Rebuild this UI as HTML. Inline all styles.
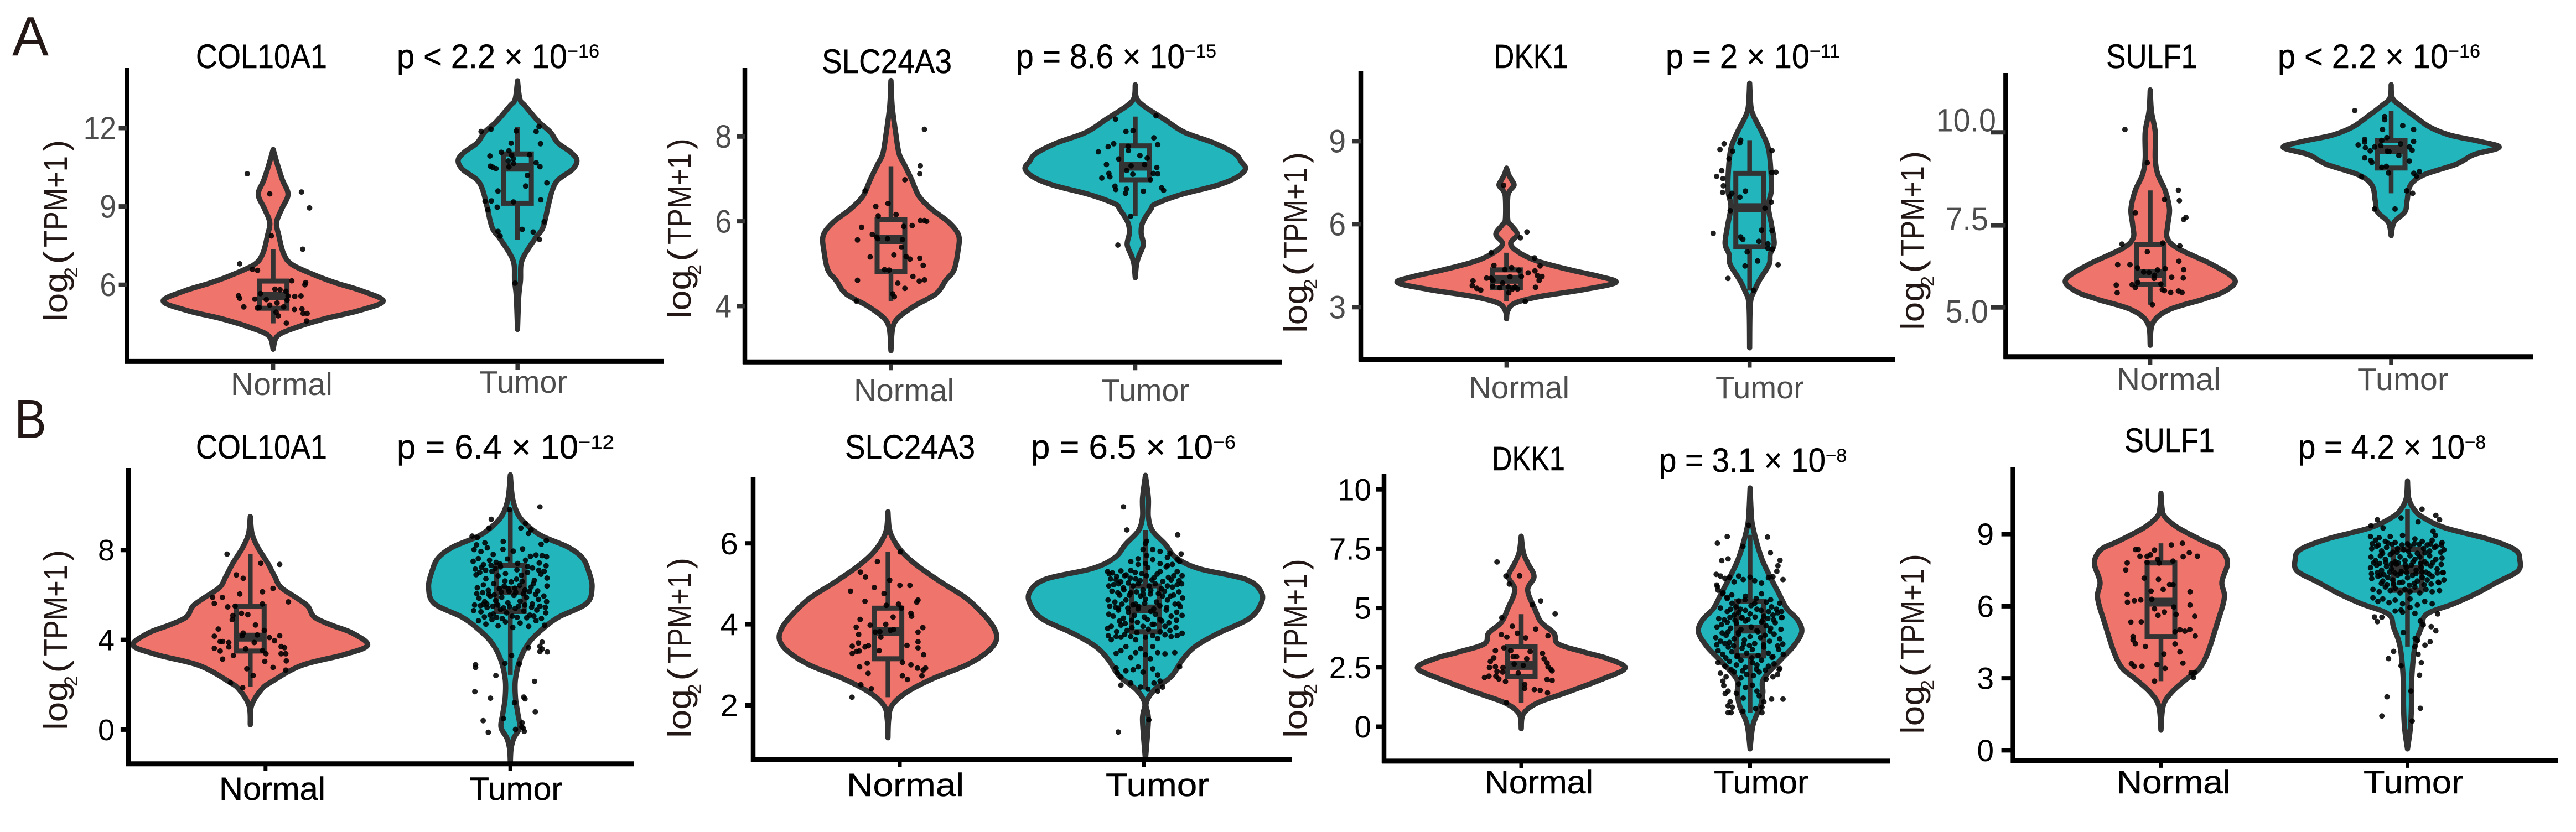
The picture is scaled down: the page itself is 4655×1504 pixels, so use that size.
<!DOCTYPE html>
<html lang="en"><head><meta charset="utf-8"><title>Violin plots of COL10A1, SLC24A3, DKK1, SULF1</title>
<style>
html,body{margin:0;padding:0;background:#fff}
svg{display:block}
text{font-family:"Liberation Sans",Arial,sans-serif;fill:#000}
.gene,.pv{font-size:61px;stroke:#000;stroke-width:.5px}
.sup{font-size:34px;stroke:#000;stroke-width:.3px}
.yt{font-size:59px;fill:#231815}
.xa{font-size:57px;fill:#4d4d4d}
.xb{font-size:58px;fill:#000;stroke:#000;stroke-width:.5px}
.letter{font-size:100px;fill:#231815}
</style></head>
<body>
<svg id="fig" width="4655" height="1504" viewBox="0 0 4655 1504" xmlns="http://www.w3.org/2000/svg">
<text class="letter" x="22" y="100" textLength="66" lengthAdjust="spacingAndGlyphs">A</text>
<text class="letter" x="26" y="792" textLength="58" lengthAdjust="spacingAndGlyphs">B</text>

<g id="a1">
<text class="gene" x="354" y="123" textLength="237" lengthAdjust="spacingAndGlyphs">COL10A1</text>
<text class="pv" x="717" y="123" textLength="308" lengthAdjust="spacingAndGlyphs">p &lt; 2.2 × 10</text>
<text class="sup" x="1025" y="104" textLength="58" lengthAdjust="spacingAndGlyphs">−16</text>
<text class="yt" transform="translate(121,581) rotate(-90)"><tspan x="0" textLength="88" lengthAdjust="spacingAndGlyphs">log</tspan><tspan x="79" dy="19" font-size="34">2</tspan><tspan x="103" dy="-19" textLength="24" lengthAdjust="spacingAndGlyphs">(</tspan><tspan x="134" textLength="165" lengthAdjust="spacingAndGlyphs">TPM+1</tspan><tspan x="308" textLength="20" lengthAdjust="spacingAndGlyphs">)</tspan></text>
<text class="xa" x="417" y="714" textLength="184" lengthAdjust="spacingAndGlyphs">Normal</text>
<text class="xa" x="866" y="710" textLength="159" lengthAdjust="spacingAndGlyphs">Tumor</text>
</g>
<g id="a2">
<text class="gene" x="1485" y="132" textLength="235" lengthAdjust="spacingAndGlyphs">SLC24A3</text>
<text class="pv" x="1836" y="123" textLength="305" lengthAdjust="spacingAndGlyphs">p = 8.6 × 10</text>
<text class="sup" x="2141" y="104" textLength="57" lengthAdjust="spacingAndGlyphs">−15</text>
<text class="yt" transform="translate(1248,576) rotate(-90)"><tspan x="0" textLength="88" lengthAdjust="spacingAndGlyphs">log</tspan><tspan x="79" dy="19" font-size="34">2</tspan><tspan x="103" dy="-19" textLength="24" lengthAdjust="spacingAndGlyphs">(</tspan><tspan x="134" textLength="165" lengthAdjust="spacingAndGlyphs">TPM+1</tspan><tspan x="306" textLength="20" lengthAdjust="spacingAndGlyphs">)</tspan></text>
<text class="xa" x="1543" y="725" textLength="181" lengthAdjust="spacingAndGlyphs">Normal</text>
<text class="xa" x="1990" y="725" textLength="159" lengthAdjust="spacingAndGlyphs">Tumor</text>
</g>
<g id="a3">
<text class="gene" x="2699" y="123" textLength="135" lengthAdjust="spacingAndGlyphs">DKK1</text>
<text class="pv" x="3010" y="123" textLength="260" lengthAdjust="spacingAndGlyphs">p = 2 × 10</text>
<text class="sup" x="3270" y="104" textLength="55" lengthAdjust="spacingAndGlyphs">−11</text>
<text class="yt" transform="translate(2361,602) rotate(-90)"><tspan x="0" textLength="88" lengthAdjust="spacingAndGlyphs">log</tspan><tspan x="79" dy="19" font-size="34">2</tspan><tspan x="103" dy="-19" textLength="24" lengthAdjust="spacingAndGlyphs">(</tspan><tspan x="134" textLength="165" lengthAdjust="spacingAndGlyphs">TPM+1</tspan><tspan x="307" textLength="20" lengthAdjust="spacingAndGlyphs">)</tspan></text>
<text class="xa" x="2654" y="720" textLength="182" lengthAdjust="spacingAndGlyphs">Normal</text>
<text class="xa" x="3100" y="720" textLength="160" lengthAdjust="spacingAndGlyphs">Tumor</text>
</g>
<g id="a4">
<text class="gene" x="3806" y="123" textLength="165" lengthAdjust="spacingAndGlyphs">SULF1</text>
<text class="pv" x="4116" y="123" textLength="308" lengthAdjust="spacingAndGlyphs">p &lt; 2.2 × 10</text>
<text class="sup" x="4424" y="104" textLength="58" lengthAdjust="spacingAndGlyphs">−16</text>
<text class="yt" transform="translate(3476,597) rotate(-90)"><tspan x="0" textLength="88" lengthAdjust="spacingAndGlyphs">log</tspan><tspan x="79" dy="19" font-size="34">2</tspan><tspan x="103" dy="-19" textLength="24" lengthAdjust="spacingAndGlyphs">(</tspan><tspan x="134" textLength="163" lengthAdjust="spacingAndGlyphs">TPM+1</tspan><tspan x="304" textLength="20" lengthAdjust="spacingAndGlyphs">)</tspan></text>
<text class="xa" x="3825" y="705" textLength="188" lengthAdjust="spacingAndGlyphs">Normal</text>
<text class="xa" x="4260" y="705" textLength="164" lengthAdjust="spacingAndGlyphs">Tumor</text>
</g>
<g id="b1">
<text class="gene" x="354" y="829" textLength="237" lengthAdjust="spacingAndGlyphs">COL10A1</text>
<text class="pv" x="717" y="829" textLength="328" lengthAdjust="spacingAndGlyphs">p = 6.4 × 10</text>
<text class="sup" x="1045" y="811" textLength="65" lengthAdjust="spacingAndGlyphs">−12</text>
<text class="yt" transform="translate(121,1320) rotate(-90)"><tspan x="0" textLength="88" lengthAdjust="spacingAndGlyphs">log</tspan><tspan x="79" dy="19" font-size="34">2</tspan><tspan x="103" dy="-19" textLength="24" lengthAdjust="spacingAndGlyphs">(</tspan><tspan x="134" textLength="165" lengthAdjust="spacingAndGlyphs">TPM+1</tspan><tspan x="306" textLength="20" lengthAdjust="spacingAndGlyphs">)</tspan></text>
<text class="xb" x="396" y="1446" textLength="192" lengthAdjust="spacingAndGlyphs">Normal</text>
<text class="xb" x="848" y="1446" textLength="168" lengthAdjust="spacingAndGlyphs">Tumor</text>
</g>
<g id="b2">
<text class="gene" x="1527" y="829" textLength="235" lengthAdjust="spacingAndGlyphs">SLC24A3</text>
<text class="pv" x="1863" y="829" textLength="329" lengthAdjust="spacingAndGlyphs">p = 6.5 × 10</text>
<text class="sup" x="2192" y="811" textLength="41" lengthAdjust="spacingAndGlyphs">−6</text>
<text class="yt" transform="translate(1248,1334) rotate(-90)"><tspan x="0" textLength="88" lengthAdjust="spacingAndGlyphs">log</tspan><tspan x="79" dy="19" font-size="34">2</tspan><tspan x="103" dy="-19" textLength="24" lengthAdjust="spacingAndGlyphs">(</tspan><tspan x="134" textLength="165" lengthAdjust="spacingAndGlyphs">TPM+1</tspan><tspan x="306" textLength="20" lengthAdjust="spacingAndGlyphs">)</tspan></text>
<text class="xb" x="1530" y="1439" textLength="212" lengthAdjust="spacingAndGlyphs">Normal</text>
<text class="xb" x="1998" y="1439" textLength="187" lengthAdjust="spacingAndGlyphs">Tumor</text>
</g>
<g id="b3">
<text class="gene" x="2696" y="850" textLength="132" lengthAdjust="spacingAndGlyphs">DKK1</text>
<text class="pv" x="2998" y="853" textLength="301" lengthAdjust="spacingAndGlyphs">p = 3.1 × 10</text>
<text class="sup" x="3299" y="835" textLength="38" lengthAdjust="spacingAndGlyphs">−8</text>
<text class="yt" transform="translate(2361,1334) rotate(-90)"><tspan x="0" textLength="88" lengthAdjust="spacingAndGlyphs">log</tspan><tspan x="79" dy="19" font-size="34">2</tspan><tspan x="103" dy="-19" textLength="24" lengthAdjust="spacingAndGlyphs">(</tspan><tspan x="134" textLength="163" lengthAdjust="spacingAndGlyphs">TPM+1</tspan><tspan x="304" textLength="20" lengthAdjust="spacingAndGlyphs">)</tspan></text>
<text class="xb" x="2683" y="1434" textLength="196" lengthAdjust="spacingAndGlyphs">Normal</text>
<text class="xb" x="3097" y="1434" textLength="171" lengthAdjust="spacingAndGlyphs">Tumor</text>
</g>
<g id="b4">
<text class="gene" x="3839" y="817" textLength="163" lengthAdjust="spacingAndGlyphs">SULF1</text>
<text class="pv" x="4153" y="829" textLength="301" lengthAdjust="spacingAndGlyphs">p = 4.2 × 10</text>
<text class="sup" x="4454" y="811" textLength="38" lengthAdjust="spacingAndGlyphs">−8</text>
<text class="yt" transform="translate(3476,1327) rotate(-90)"><tspan x="0" textLength="88" lengthAdjust="spacingAndGlyphs">log</tspan><tspan x="79" dy="19" font-size="34">2</tspan><tspan x="103" dy="-19" textLength="24" lengthAdjust="spacingAndGlyphs">(</tspan><tspan x="134" textLength="165" lengthAdjust="spacingAndGlyphs">TPM+1</tspan><tspan x="306" textLength="20" lengthAdjust="spacingAndGlyphs">)</tspan></text>
<text class="xb" x="3825" y="1434" textLength="206" lengthAdjust="spacingAndGlyphs">Normal</text>
<text class="xb" x="4271" y="1434" textLength="180" lengthAdjust="spacingAndGlyphs">Tumor</text>
</g>
</svg>
<script>
// ---- Tick values and labels ----
const a1Ticks=[6,9,12]; const a1TickLabels=['6','9','12'];
const a2Ticks=[4,6,8]; const a2TickLabels=['4','6','8'];
const a3Ticks=[3,6,9]; const a3TickLabels=['3','6','9'];
const a4Ticks=[5,7.34,10]; const a4TickLabels=['5.0','7.5','10.0'];
const b1Ticks=[0,4,8]; const b1TickLabels=['0','4','8'];
const b2Ticks=[2,4,6]; const b2TickLabels=['2','4','6'];
const b3Ticks=[0,2.5,5,7.5,10]; const b3TickLabels=['0','2.5','5','7.5','10'];
const b4Ticks=[0,3,6,9]; const b4TickLabels=['0','3','6','9'];

// ---- Violin profiles: levels (log2 TPM) and half-widths (category units) ----
// ---- Box stats: [low whisker, Q1, median, Q3, high whisker] ----
// ---- Points: jitter (category units) and value ----

// A / COL10A1
const a1NormalLevels=[11.18,10.62,10.01,9.46,8.9,8.39,7.89,7.18,6.77,6.36,6.06,5.76,5.37,5,4.69,4.34,4.03,3.53];
const a1NormalWidths=[0,.017,.038,.061,.035,.014,.023,.043,.078,.173,.26,.364,.45,.347,.208,.087,.017,0];
const a1NormalBox=[4.52,5.1,5.57,6.14,7.36];
const a1NormalJitter=[-.106,-.014,.116,.149,-.007,.121,-.137,-.085,-.064,.133,.076,.13,.007,.028,.052,-.142,-.137,-.075,-.052,-.028,.061,.088,.114,.057,.016,-.014,-.12,-.064,-.057,.043,.087,.118,.012,.021,.123,.139,.137,.054];
const a1NormalValues=[10.25,9.48,9.55,8.94,7.87,7.36,6.8,6.59,6.55,6.08,6.15,6,5.83,5.81,5.75,5.58,5.48,5.45,5.66,5.43,5.57,5.55,5.57,5.41,5.3,5.22,5.15,5.11,5.12,5.15,5.05,5.07,4.95,4.81,4.9,4.9,4.61,4.53];
const a1TumorLevels=[13.81,13.1,12.85,12.24,11.84,11.43,11.08,10.77,10.42,10.01,9.61,9,8.19,7.78,7.18,6.77,6.16,5.55,4.29];
const a1TumorWidths=[0,.01,.031,.087,.135,.165,.217,.243,.225,.165,.142,.125,.104,.073,.031,.014,.012,.005,0];
const a1TumorBox=[7.73,9.12,10.5,11.01,12.04];
const a1TumorJitter=[-.149,-.109,-.005,.088,.076,-.026,.094,-.066,-.035,-.113,-.024,.049,-.038,-.017,.076,-.111,-.102,-.088,-.035,-.016,.092,.04,.12,.033,-.08,-.133,-.107,-.017,.095,-.083,-.121,.109,.019,-.08,.064,-.071,.09,-.01];
const a1TumorValues=[11.87,11.96,11.89,12.06,11.87,11.42,11.4,11.07,11.13,10.93,10.96,10.98,10.74,10.82,10.67,10.54,10.5,10.45,10.51,10.65,10.52,10.19,9.9,9.78,9.59,9.2,9.21,9.17,9.25,8.97,8.87,8.41,8.12,8.04,8.02,7.86,7.73,6.06];

// A / SLC24A3
const a2NormalLevels=[9.32,8.72,8.1,7.6,7.35,6.98,6.6,6.29,5.98,5.67,5.29,4.85,4.61,4.29,4,3.73,3.48,2.95];
const a2NormalWidths=[0,.005,.019,.033,.054,.085,.114,.166,.236,.277,.274,.258,.225,.184,.095,.031,.007,0];
const a2NormalBox=[4.12,4.82,5.57,6.04,7.3];
const a2NormalJitter=[.137,.12,.118,.057,-.106,-.012,-.062,-.052,.021,.12,.137,.146,.087,.052,-.12,-.076,-.059,-.054,-.014,-.137,.047,.043,.012,-.085,.062,.078,.118,.132,-.026,-.007,.09,-.137,.116,.137,.028,.057,.007,.014,-.142];
const a2NormalValues=[8.17,7.31,7.12,6.98,6.72,6.42,6.35,6.13,6.16,6.02,6.02,6,5.9,5.88,5.86,5.69,5.63,5.59,5.59,5.56,5.57,5.39,5.21,5.16,5.17,5.11,5.13,4.96,4.86,4.85,4.7,4.61,4.59,4.62,4.54,4.42,4.29,4.22,4.12];
const a2TumorLevels=[9.22,8.91,8.72,8.41,8.1,7.85,7.6,7.41,7.24,7.04,6.85,6.63,6.41,6.29,5.98,5.73,5.45,5.17,4.98,4.67];
const a2TumorWidths=[0,.005,.035,.118,.201,.321,.407,.433,.451,.416,.335,.187,.083,.064,.031,.024,.033,.014,.005,0];
const a2TumorBox=[6.12,6.98,7.3,7.78,8.47];
const a2TumorJitter=[.085,-.081,-.038,-.009,.076,.092,-.088,-.111,-.029,-.151,-.028,.019,.049,-.068,-.118,.038,-.017,.088,-.108,-.035,-.01,.074,.092,-.137,-.104,.062,-.083,.108,-.08,-.036,.033,.116,-.04,-.019,-.071];
const a2TumorValues=[8.49,8.41,8.12,8.14,7.97,7.81,7.83,7.76,7.77,7.64,7.67,7.55,7.49,7.47,7.34,7.34,7.31,7.27,7.13,7.2,7.11,7.13,7.12,7.02,7.05,6.98,6.83,6.79,6.75,6.76,6.71,6.73,6.66,6.12,5.44];

// A / DKK1
const a3NormalLevels=[8.03,7.79,7.6,7.41,7.22,6.98,6.17,5.98,5.64,5.31,5.02,4.68,4.35,4.11,3.89,3.63,3.39,3.15,2.87,2.58];
const a3NormalWidths=[0,.009,.021,.031,.014,.005,.005,.017,.044,.017,.044,.122,.261,.383,.449,.314,.139,.035,.005,0];
const a3NormalBox=[3.22,3.7,4.01,4.35,4.97];
const a3NormalJitter=[-.012,.084,.057,-.063,.115,-.052,.138,.021,.051,-.007,.089,.117,.127,.146,-.082,-.063,.061,.014,-.056,.134,-.138,-.016,-.141,-.057,-.122,-.106,-.028,.007,.119,.024,.045,.009,.077,.035];
const a3NormalValues=[7.41,5.72,5.51,4.97,4.78,4.51,4.49,4.43,4.34,4.36,4.24,4.31,4.14,4.11,4.05,4.05,4.11,4.1,3.97,3.97,3.95,3.87,3.78,3.75,3.68,3.62,3.7,3.73,3.72,3.66,3.66,3.52,3.21,3.73];
const a3TumorLevels=[11.1,10.28,9.9,9.33,8.75,7.99,7.22,6.65,5.98,5.31,4.92,4.54,3.97,3.58,3.11,1.53];
const a3TumorWidths=[0,.005,.017,.05,.077,.087,.089,.077,.09,.101,.085,.08,.04,.019,.003,0];
const a3TumorBox=[3.6,5.19,6.6,7.84,9.04];
const a3TumorJitter=[-.037,-.105,-.04,-.122,-.07,.092,-.085,-.115,.108,.091,-.136,-.11,-.108,-.017,-.111,-.073,-.082,-.04,.089,.063,-.08,.049,-.15,.092,-.037,-.028,.038,.075,.075,.094,-.01,.033,.117,-.019,-.089,.016];
const a3TumorValues=[9.04,8.91,8.94,8.7,8.64,8.66,8.37,7.94,7.88,7.87,7.73,7.65,7.39,7.2,7.15,7.12,7.01,6.98,6.8,6.58,6.49,5.78,5.67,5.77,5.54,5.45,5.38,5.29,5.13,5.1,5,4.67,4.53,4.49,4.04,3.61];

// A / SULF1
const a4NormalLevels=[11.21,10.6,10,9.24,8.79,8.34,7.81,7.36,6.98,6.68,6.22,5.79,5.47,5.24,4.94,4.56,3.92];
const a4NormalWidths=[0,.005,.021,.021,.032,.062,.08,.073,.071,.116,.258,.351,.311,.222,.08,.011,0];
const a4NormalBox=[5.08,5.66,5.96,6.79,8.34];
const a4NormalJitter=[-.105,-.012,.117,.121,.059,-.062,.148,.139,-.117,.052,.123,-.012,-.135,-.084,.119,-.053,.139,.062,.03,-.027,-.005,.018,.016,.089,.137,-.052,-.075,.044,-.141,-.062,.05,.059,.085,.117,.132,-.137,.009];
const a4NormalValues=[10.08,9.13,8.35,8.05,8.08,7.7,7.57,7.51,6.81,6.84,6.76,6.59,6.22,6.22,6.32,6.13,6.08,6.11,6.07,6.01,6,5.92,5.83,5.86,5.84,5.71,5.65,5.67,5.64,5.57,5.51,5.48,5.43,5.47,5.43,5.42,5.08];
const a4TumorLevels=[11.36,10.98,10.76,10.45,10.15,9.92,9.74,9.57,9.36,9.09,8.79,8.49,8.04,7.73,7.43,7.05];
const a4TumorWidths=[0,.005,.039,.098,.16,.244,.368,.448,.342,.27,.137,.08,.066,.057,.012,0];
const a4TumorBox=[8.26,8.98,9.5,9.77,10.62];
const a4TumorJitter=[-.151,-.027,-.027,.048,-.036,.093,-.018,-.11,-.039,.093,-.11,.039,-.137,-.107,-.069,-.043,.075,.087,-.087,-.016,-.009,-.11,-.085,.075,-.08,-.039,-.02,.032,-.011,.094,.117,.105,-.123,.064,.089,-.069,.016];
const a4TumorValues=[10.62,10.45,10.36,10.19,10.08,10.08,9.85,9.8,9.77,9.74,9.72,9.67,9.64,9.56,9.58,9.62,9.58,9.49,9.47,9.46,9.45,9.27,9.2,9.18,9.14,9,9.03,9.34,8.84,8.83,8.88,8.75,8.73,8.33,8.26,7.81,7.81];

// B / COL10A1
const b1NormalLevels=[9.49,8.86,8.5,8.02,7.42,6.82,6.34,5.86,5.5,5.02,4.66,4.3,3.76,3.34,2.86,2.14,1.78,1.06,.22];
const b1NormalWidths=[0,.005,.014,.036,.071,.1,.125,.19,.235,.261,.33,.417,.479,.382,.209,.088,.045,.005,0];
const b1NormalBox=[1.9,3.5,4.12,5.48,7.81];
const b1NormalJitter=[-.095,.043,.12,-.057,-.029,.093,.05,-.043,-.154,-.114,.156,-.147,-.092,.05,-.062,-.036,-.01,-.071,-.074,.021,-.131,.057,-.029,-.147,-.033,.12,.078,.029,.099,-.123,-.113,-.088,.016,.126,-.147,-.123,-.088,-.019,.14,.05,-.069,.064,.126,.145,-.113,.059,.147,.093,-.014,.145,.012,-.081,-.031];
const b1NormalValues=[7.82,7.41,7.36,6.89,6.74,6.29,6.14,6.04,5.89,5.89,5.69,5.62,5.47,5.6,5.5,5.18,5.12,5.08,4.9,4.66,4.48,4.42,4.3,4.16,4.18,4.18,4.1,4.22,3.96,3.92,3.92,3.88,3.88,3.7,3.62,3.5,3.68,3.6,3.65,3.52,3.3,3.38,3.38,3.38,3.14,3.04,3.06,2.77,2.71,2.65,2.41,2.08,1.87];
const b1TumorLevels=[11.35,10.31,9.59,9.1,8.62,8.14,7.66,7.06,6.34,5.62,5.02,4.54,3.94,3.22,2.26,1.42,.7,.1,-.38,-.86,-1.47];
const b1TumorWidths=[0,.009,.031,.069,.13,.234,.294,.32,.334,.311,.199,.138,.081,.043,.021,.021,.031,.038,.014,.003,0];
const b1TumorBox=[2.44,5.26,6.2,7.33,9.83];
const b1TumorJitter=[.121,-.003,-.078,.062,-.087,.043,.085,.074,-.156,-.135,.147,-.029,-.104,-.138,.126,
-.148,-.12,-.094,-.07,-.03,.012,.05,.082,.105,.13,.148,
-.152,-.131,-.11,-.085,-.058,-.04,-.012,.03,.062,.091,.118,.146,
-.14,-.125,-.1,-.075,-.05,-.02,.025,.045,.07,.098,.125,.15,
-.135,-.11,-.09,-.068,-.045,-.025,-.005,.018,.038,.06,.085,.112,.15,
-.128,-.105,-.082,-.06,-.035,-.01,.015,.04,.066,.09,.115,.148,
-.15,-.12,-.095,-.07,-.04,-.015,.02,.055,.08,.108,.145,
-.13,-.1,-.075,-.05,-.02,.01,.04,.075,.105,.14,
.13,.121,.074,.13,.121,.151,.005,-.022,.036,-.142,-.142,-.059,.099,-.145,-.081,.055,.06,.017,.102,-.028,-.111,.048,.021,.052,.057,-.09,.047,
-.143,-.118,-.101,-.079,-.062,-.042,-.022,.004,.027,.048,.071,.094,.116,.138,
-.137,-.113,-.088,-.066,-.037,-.009,.022,.053,.078,.103,.137,
-.146,-.122,-.096,-.072,-.051,-.028,-.003,.034,.059,.087,.121,.143,-.11,
-.106,-.083,-.056,-.033,.008,.028,.067,.096,.127];
const b1TumorValues=[9.92,9.8,9.37,9.19,8.98,8.98,8.9,8.74,8.62,8.56,8.42,8.38,8.32,8.23,8.26,
8.02,7.93,8.1,7.8,8.03,7.95,8.05,7.72,7.78,7.75,7.7,
7.5,7.62,7.35,7.55,7.45,7.25,7.6,7.4,7.55,7.2,7.42,7.3,
6.9,7,6.72,7.05,6.85,6.95,6.7,6.88,7,6.65,6.92,6.75,
6.32,6.45,6.2,6.5,6.28,6.4,6.15,6.3,6.42,6.22,6.35,6.18,6.4,
5.85,5.7,5.95,5.75,5.9,5.65,5.98,5.72,5.88,5.6,5.8,5.7,
5.3,5.25,5.45,5.15,5.35,5.2,5.4,5.28,5.1,5.32,5.2,
4.85,4.7,4.9,4.62,4.8,4.55,4.75,4.6,4.85,4.65,
3.9,3.71,3.65,3.59,3.48,3.46,3.3,2.95,2.93,2.89,2.77,2.41,2.15,1.69,1.4,1.45,1.37,1.2,.79,.49,.4,.3,.01,.07,-.08,-.12,.12,
7.15,7.22,7.1,7.32,7.18,7.38,6.62,6.58,7.12,6.6,7.26,6.5,7.1,7.05,
6.05,6.1,6.02,6,6.12,6.28,6.12,6.05,6.15,6.02,5.95,
5.55,5.52,5.6,5.5,5.55,5.42,5.48,5.5,5.55,5.45,5.5,5.45,5.58,
5.02,5.1,5,4.95,5.05,5,4.98,5.05,4.95];

// B / SLC24A3
const b2NormalLevels=[6.78,6.38,6.11,5.78,5.45,5.05,4.65,4.25,3.92,3.62,3.32,2.99,2.65,2.32,1.99,1.65,1.2];
const b2NormalWidths=[0,.005,.021,.059,.12,.215,.319,.39,.433,.444,.407,.319,.18,.076,.016,.003,0];
const b2NormalBox=[2.2,3.15,3.82,4.4,5.79];
const b2NormalJitter=[.05,-.043,-.113,-.092,.007,-.056,.049,.09,-.153,-.016,-.094,.123,.118,-.007,.043,.055,.094,.097,.021,-.114,-.073,-.009,-.13,.143,.023,.01,-.12,.123,-.052,-.033,-.029,.123,-.121,-.08,-.094,-.146,.078,.123,-.036,-.118,-.128,-.146,.146,.059,-.085,.094,-.116,.121,.154,.144,-.081,.059,.139,.08,-.111,-.068,-.147];
const b2NormalValues=[5.79,5.55,5.29,5.17,5.09,4.91,4.96,4.96,4.82,4.76,4.57,4.6,4.55,4.47,4.5,4.4,4.27,4.2,4.18,4.12,3.98,4,3.93,3.92,3.87,3.85,3.75,3.81,3.81,3.82,3.68,3.57,3.54,3.47,3.44,3.46,3.48,3.42,3.35,3.34,3.33,3.28,3.25,3.06,3.04,3,2.95,2.92,2.92,2.87,2.79,2.73,2.73,2.64,2.51,2.41,2.2];
const b2TumorLevels=[7.68,7.11,6.65,6.31,5.98,5.65,5.38,5.11,4.78,4.45,4.12,3.78,3.45,3.12,2.72,2.39,2.05,1.65,.66];
const b2TumorWidths=[0,.012,.012,.029,.081,.125,.217,.411,.475,.468,.419,.298,.203,.151,.107,.038,.003,.012,0];
const b2TumorBox=[2.39,3.82,4.38,4.95,6.33];
const b2TumorJitter=[-.09,-.076,.132,.005,.146,-.111,.014,
-.155,-.148,-.135,-.12,-.1,-.085,-.06,-.04,-.015,.01,.035,.06,.085,.105,.13,.15,
-.15,-.13,-.11,-.09,-.07,-.05,-.03,-.01,.015,.04,.065,.09,.11,.13,.148,
-.153,-.125,-.105,-.08,-.06,-.04,-.02,0,.02,.045,.07,.09,.115,.135,.152,
-.15,-.132,-.11,-.09,-.07,-.045,-.03,-.005,.022,.04,.06,.085,.105,.128,.15,
-.155,-.14,-.118,-.1,-.075,-.055,-.035,-.01,.012,.035,.06,.08,.1,.125,.15,
-.152,-.14,-.12,-.1,-.085,-.06,-.04,0,.03,.05,.08,.105,.13,
-.08,-.1,-.12,-.04,-.02,0,.03,.05,.08,.12,-.06,.02,
-.12,-.115,-.1,-.08,-.05,-.03,-.01,.03,.05,.14,.06,.035,
0,-.01,.005,.03,-.03,.03,.06,.1,.09,.13,.14,-.06,-.03,0,.11,.09,.06,
-.1,-.06,-.02,.01,.05,.07,
-.143,-.118,-.101,-.079,-.062,-.042,-.022,.004,.027,.048,.071,.094,.116,.138,
-.137,-.113,-.088,-.066,-.037,-.009,.022,.053,.078,.103,.137,
-.146,-.122,-.096,-.072,-.051,-.028,-.003,.034,.059,.087,.121,.143,-.11,
-.106,-.083,-.056,-.033,.008,.028,.067,.096,.127];
const b2TumorValues=[6.9,6.33,6.21,6.05,5.74,1.34,1.64,
5.3,5.25,5.27,5.1,5.32,5.2,5.33,5.12,5.25,5.4,5.15,5.3,5.42,5.1,5.3,5.2,
4.95,4.98,5,4.9,5.02,4.95,5,4.85,4.95,5,4.88,4.95,4.92,4.98,5,
4.6,4.55,4.72,4.6,4.78,4.5,4.7,4.62,4.75,4.55,4.7,4.6,4.72,4.5,4.65,
4.25,4.2,4.35,4.15,4.3,4.22,4.38,4.18,4.32,4.25,4.12,4.35,4.2,4.3,4.22,
3.9,3.95,3.82,3.98,3.85,3.92,3.8,3.95,3.88,4,3.82,3.95,3.85,3.92,3.78,
3.72,3.62,3.7,3.68,3.75,3.7,3.62,3.68,3.72,3.65,3.74,3.7,3.72,
3.45,3.35,3.28,3.3,3.4,3.25,3.45,3.3,3.27,3.3,3.18,3.15,
2.92,2.8,2.7,2.85,2.88,2.95,2.82,2.9,2.75,2.95,2.6,2.55,
6,5.85,5.7,5.85,5.62,5.6,5.8,5.75,5.65,5.6,5.55,5.55,5.48,5.5,5.48,5.45,5.5,
2.5,2.55,2.45,2.4,2.35,2.45,
5.12,5.18,5.05,5.22,5.14,5.28,5.08,5.2,5.1,5.24,5.06,5.16,5.2,5.08,
4.82,4.78,4.85,4.72,4.8,4.74,4.84,4.76,4.82,4.7,4.8,
4.45,4.42,4.5,4.4,4.48,4.44,4.52,4.38,4.46,4.42,4.5,4.44,4.4,
4.08,4.02,4.1,4.05,4.12,4,4.08,4.04,4.1];

// B / DKK1
const b3NormalLevels=[8.03,7.35,6.9,6.33,5.76,4.97,4.4,3.94,3.49,3.15,2.86,2.47,2.01,1.44,.99,.53,-.09];
const b3NormalWidths=[0,.009,.028,.056,.028,.059,.087,.143,.161,.272,.38,.454,.356,.198,.069,.009,0];
const b3NormalBox=[1.01,2.12,2.58,3.38,4.74];
const b3NormalJitter=[-.106,-.007,-.067,-.052,.085,.148,-.085,.048,-.039,.063,.117,-.087,-.017,-.063,.019,-.076,-.113,.093,-.046,-.035,-.02,.039,-.12,-.135,.024,.1,.113,-.113,-.08,-.139,.117,.009,-.031,.13,.135,-.106,-.081,-.013,-.141,-.111,-.161,-.098,-.069,.113,.135,.015,.015,.057,.083,.115,-.065];
const b3NormalValues=[6.94,6.36,6.35,6.01,5.3,4.75,4.59,5.14,4.23,4.11,3.83,3.88,3.94,3.77,3.74,3.32,3.2,3.09,3.2,2.95,2.95,3.17,2.9,2.75,2.86,2.86,2.69,2.52,2.49,2.49,2.52,2.58,2.64,2.41,2.35,2.33,2.3,2.26,2.13,2.13,2.07,2.01,1.9,1.99,1.95,1.78,1.61,1.56,1.53,1.42,1.01];
const b3TumorLevels=[10.06,8.83,8.38,7.69,7.01,6.33,5.65,4.97,4.51,4,3.38,2.81,2.01,1.44,.88,.08,-.94];
const b3TumorWidths=[0,.006,.013,.031,.054,.087,.124,.161,.207,.226,.189,.133,.059,.056,.046,.013,0];
const b3TumorBox=[.59,2.98,4.11,5.28,8.09];
const b3TumorJitter=[-.1,-.143,.076,-.007,-.031,.089,.131,.122,-.124,-.096,.117,.144,-.148,-.146,.094,.144,-.087,-.096,-.078,-.096,-.083,.024,.052,.052,-.031,-.119,-.115,-.096,-.109,
-.13,-.11,-.09,-.07,-.05,-.03,0,.02,.05,.08,.1,
-.14,-.12,-.1,-.08,-.05,-.02,.02,.05,.09,.13,
-.13,-.1,-.085,-.07,-.05,-.035,-.02,0,.03,.06,.08,.1,.12,.14,
-.145,-.125,-.1,-.085,-.06,-.04,-.02,.005,.03,.05,.07,.09,.11,.135,
-.15,-.13,-.105,-.09,-.07,-.05,-.025,0,.02,.045,.065,.085,.105,.13,
-.14,-.12,-.095,-.08,-.055,-.035,-.015,.01,.035,.06,.08,.1,.125,.145,
-.14,-.11,-.09,-.06,-.04,-.02,.01,.03,.05,.08,.105,.13,
-.13,-.105,-.07,-.04,-.015,.015,.04,.07,.1,.12,
-.05,-.02,.01,.03,-.06,-.03,.04,.06,
-.143,-.118,-.101,-.079,-.062,-.042,-.022,.004,.027,.048,.071,.094,.116,.138,
-.137,-.113,-.088,-.066,-.037,-.009,.022,.053,.078,.103,.137,
-.146,-.122,-.096,-.072,-.051,-.028,-.003,.034,.059,.087,.121,.143,-.11,
-.106,-.083,-.056,-.033,.008,.028,.067,.096,.127];
const b3TumorValues=[8.01,7.73,7.99,8.49,7.6,7.33,7.01,6.78,7,7.07,6.55,6.2,6.42,5.97,1.16,1.16,1.05,.88,.82,.59,.59,.76,.82,.59,.65,1.92,1.73,1.5,1.39,
6.35,6.25,6.3,6.1,6.35,6.2,6.3,6.15,6.05,6.28,6.32,
5.75,5.6,5.4,5.55,5.3,5.5,5.2,5.6,5.35,5.2,
5,4.85,4.95,4.7,4.8,4.6,4.9,4.75,4.95,4.65,4.85,4.7,4.8,4.6,
4.2,4.3,4.4,4.15,4.35,4.1,4.45,4.2,4.05,4.4,4.25,4.15,4.38,4.1,
3.75,3.6,3.85,3.55,3.7,3.9,3.65,3.8,3.5,3.75,3.85,3.6,3.9,3.7,
3.2,3.05,3.35,3.15,3,3.3,3.1,3.25,3,3.35,3.1,2.95,3.25,3.05,
2.7,2.55,2.75,2.6,2.8,2.5,2.7,2.6,2.8,2.55,2.65,2.45,
2.25,2.1,2.3,2.05,2.2,2.15,2.3,2,2.1,2.2,
1.8,1.65,1.75,1.5,1.4,1.2,1.3,1.05,
5.9,5.65,5.45,5.2,5.05,4.95,5.35,5.1,5.4,4.9,5.25,5.05,4.95,4.85,
4.55,4.5,4.6,4.48,4.58,4.52,4.62,4.45,4.56,4.5,4.6,
3.45,3.95,4,3.4,3.98,3.48,3.42,4,3.45,4.02,3.4,3.48,3.5,
2.9,2.4,2.95,2.35,2.9,2.42,2.38,2.92,2.4];

// B / SULF1
const b4NormalLevels=[10.7,10.04,9.71,9.26,8.7,8.36,7.8,7.01,6.34,5.22,4.1,3.42,2.97,2.41,1.85,.84];
const b4NormalWidths=[0,.005,.017,.07,.174,.243,.27,.247,.257,.226,.191,.157,.104,.043,.009,0];
const b4NormalBox=[2.88,4.74,6.17,7.8,8.62];
const b4NormalJitter=[.087,.042,-.026,-.103,-.092,.115,.09,.148,-.085,-.056,-.043,-.014,.049,-.137,-.056,-.007,-.143,-.068,-.01,.035,.049,.009,-.04,.118,-.137,-.136,-.108,-.082,-.037,.118,.052,-.026,.061,.014,-.012,.137,-.122,-.08,.077,.057,.097,.117,.139,-.113,-.113,-.104,-.063,.057,.077,.012,-.12,-.109,-.077,-.016,.089,.017,.122,.137,.132,-.026];
const b4NormalValues=[8.62,8.55,8.34,8.36,8.36,8.23,8.06,8.08,8.08,8.08,8.14,7.95,7.88,7.8,7.82,7.8,7.51,7.17,7.12,6.9,6.9,6.7,6.63,6.6,6.49,6.17,6.23,6.26,6.29,6.05,5.97,5.89,5.66,5.76,5.62,5.58,5.34,5.35,5.02,4.94,4.96,5.03,4.76,4.74,4.6,4.44,4.32,4.43,4.1,4.01,3.61,3.5,3.5,3.57,3.63,3.41,3.23,3.23,3.03,2.88];
const b4TumorLevels=[11.22,10.49,10.04,9.71,9.26,8.81,8.36,7.91,7.46,7.01,6.57,6.12,5.67,5.11,4.32,2.97,1.85,.95,.06];
const b4TumorWidths=[0,.005,.026,.061,.153,.322,.435,.456,.447,.365,.287,.191,.078,.056,.03,.017,.016,.012,0];
const b4TumorBox=[4.32,6.66,7.52,8.38,10.04];
const b4TumorJitter=[.059,.115,.13,.104,-.122,-.148,-.026,-.099,.043,.113,-.134,-.104,-.122,-.026,.052,.122,.096,.115,.064,-.017,.031,.04,.092,.071,.03,-.056,-.077,.043,.056,-.026,.049,.014,-.083,.052,-.104,.019,
-.15,-.13,-.115,-.09,-.07,-.05,-.02,0,.03,.06,.08,.1,.14,
-.145,-.125,-.105,-.085,-.06,-.04,-.015,.01,.04,.065,.09,.11,.135,.148,
-.148,-.13,-.11,-.09,-.07,-.05,-.03,-.01,.01,.03,.05,.07,.09,.115,.14,
-.15,-.125,-.105,-.085,-.065,-.045,-.025,-.005,.015,.035,.055,.075,.095,.12,.145,
-.145,-.12,-.1,-.08,-.06,-.04,-.02,0,.02,.04,.06,.08,.1,.125,.148,
-.14,-.115,-.09,-.07,-.05,-.03,-.01,.01,.03,.05,.075,.1,.13,
-.14,-.12,-.1,-.075,-.05,-.02,.01,.04,.07,.1,
-.05,-.02,.01,.03,
-.143,-.118,-.101,-.079,-.062,-.042,-.022,.004,.027,.048,.071,.094,.116,.138,
-.137,-.113,-.088,-.066,-.037,-.009,.022,.053,.078,.103,.137,
-.146,-.122,-.096,-.072,-.051,-.028,-.003,.034,.059,.087,.121,.143,-.11,
-.106,-.083,-.056,-.033,.008,.028,.067,.096,.127];
const b4TumorValues=[10.04,9.78,9.6,9.12,9.6,9.35,9.68,9.26,9.51,8.95,5.55,5.54,5.36,5.84,5.38,5.68,5.15,4.98,5.22,4.91,4.66,4.57,4.52,4.38,4.32,4.12,3.82,4,3.65,3.52,3.13,2.47,2.23,1.75,1.43,1.22,
8.9,8.75,8.85,8.7,8.9,8.65,8.95,8.6,8.8,8.7,8.55,8.75,8.65,
8.4,8.5,8.3,8.45,8.25,8.4,8.35,8.5,8.2,8.4,8.3,8.45,8.25,8.35,
8.05,7.9,8.1,7.95,8.15,7.85,8.05,7.9,8.1,7.95,8.05,7.85,8.1,7.95,8,
7.6,7.7,7.5,7.65,7.55,7.75,7.45,7.6,7.7,7.5,7.62,7.42,7.68,7.55,7.4,
7.15,7.25,7.05,7.2,7.1,7.3,7,7.18,7.28,7.05,7.2,7.1,7.25,7,7.1,
6.7,6.6,6.8,6.65,6.75,6.55,6.7,6.6,6.8,6.55,6.7,6.6,6.65,
6.35,6.2,6.3,6.15,6.25,6.1,6.3,6.05,6.2,6.1,
5.8,5.75,5.95,5.7,
8.6,8.55,8.2,8.62,8.58,8.25,8.55,8.28,8.6,8.58,8.22,8.6,8.5,8.55,
7.8,7.78,7.82,7.75,7.8,7.72,7.84,7.78,7.76,7.82,7.74,
7.35,7.4,7.32,7.42,7.38,7.35,7.4,7.36,7.42,7.34,7.38,7.4,7.3,
6.95,6.9,6.92,6.98,6.88,6.95,6.9,6.92,6.98];

// ---- Panels: data references plus axis geometry ----
const panels=[
 {id:'a1',ticks:a1Ticks,labels:a1TickLabels,
  normal:{levels:a1NormalLevels,widths:a1NormalWidths,box:a1NormalBox,jitter:a1NormalJitter,values:a1NormalValues},
  tumor:{levels:a1TumorLevels,widths:a1TumorWidths,box:a1TumorBox,jitter:a1TumorJitter,values:a1TumorValues},
  geo:{axisX:229.6,axisY:653.4,top:123,right:1200,v0:6,p0:514.7,v1:12,p1:231.5,cat:[493.6,935.2],tick:[493.6,935.2],unit:441.6,tickLen:15,labelX:210,size:58,sx:.92,color:'#4d4d4d',xt:15,xtw:7.5}},
 {id:'a2',ticks:a2Ticks,labels:a2TickLabels,
  normal:{levels:a2NormalLevels,widths:a2NormalWidths,box:a2NormalBox,jitter:a2NormalJitter,values:a2NormalValues},
  tumor:{levels:a2TumorLevels,widths:a2TumorWidths,box:a2TumorBox,jitter:a2TumorJitter,values:a2TumorValues},
  geo:{axisX:1346,axisY:654.3,top:123,right:2316,v0:4,p0:553.4,v1:8,p1:246.8,cat:[1610,2051.5],tick:[1610,2051.5],unit:441.6,tickLen:14,labelX:1322,size:58,sx:.92,color:'#4d4d4d',xt:15,xtw:7.5}},
 {id:'a3',ticks:a3Ticks,labels:a3TickLabels,
  normal:{levels:a3NormalLevels,widths:a3NormalWidths,box:a3NormalBox,jitter:a3NormalJitter,values:a3NormalValues},
  tumor:{levels:a3TumorLevels,widths:a3TumorWidths,box:a3TumorBox,jitter:a3TumorJitter,values:a3TumorValues},
  geo:{axisX:2459,axisY:649.5,top:128,right:3425,v0:3,p0:555.3,v1:9,p1:255.4,cat:[2722.4,3161.7],tick:[2722.4,3161.7],unit:439.3,tickLen:15,labelX:2432,size:58,sx:.95,color:'#4d4d4d',xt:15,xtw:7.5}},
 {id:'a4',ticks:a4Ticks,labels:a4TickLabels,
  normal:{levels:a4NormalLevels,widths:a4NormalWidths,box:a4NormalBox,jitter:a4NormalJitter,values:a4NormalValues},
  tumor:{levels:a4TumorLevels,widths:a4TumorWidths,box:a4TumorBox,jitter:a4TumorJitter,values:a4TumorValues},
  geo:{axisX:3624.4,axisY:644.8,top:132,right:4577,v0:5,p0:555.8,v1:10,p1:239.2,cat:[3885.6,4321],tick:[3885.6,4321],unit:435.5,tickLen:27,labelX:3593,size:58,sx:.96,color:'#4d4d4d',xt:15,xtw:7.5,shiftY:[7,-12,-22],shiftX:[0,0,14]}},
 {id:'b1',ticks:b1Ticks,labels:b1TickLabels,
  normal:{levels:b1NormalLevels,widths:b1NormalWidths,box:b1NormalBox,jitter:b1NormalJitter,values:b1NormalValues},
  tumor:{levels:b1TumorLevels,widths:b1TumorWidths,box:b1TumorBox,jitter:b1TumorJitter,values:b1TumorValues},
  geo:{axisX:231.9,axisY:1380.7,top:846,right:1146,v0:0,p0:1318.9,v1:8,p1:994.3,cat:[452.3,922.2],tick:[479.8,922.2],unit:442.3,tickLen:14,labelX:207,size:54,sx:1,color:'#000',xt:13,xtw:7}},
 {id:'b2',ticks:b2Ticks,labels:b2TickLabels,
  normal:{levels:b2NormalLevels,widths:b2NormalWidths,box:b2NormalBox,jitter:b2NormalJitter,values:b2NormalValues},
  tumor:{levels:b2TumorLevels,widths:b2TumorWidths,box:b2TumorBox,jitter:b2TumorJitter,values:b2TumorValues},
  geo:{axisX:1361,axisY:1373.4,top:862,right:2335,v0:2,p0:1275,v1:6,p1:982.2,cat:[1604.6,2069.9],tick:[1626,2066.8],unit:441.6,tickLen:14,labelX:1334,size:56,sx:1.05,color:'#000',xt:13,xtw:7}},
 {id:'b3',ticks:b3Ticks,labels:b3TickLabels,
  normal:{levels:b3NormalLevels,widths:b3NormalWidths,box:b3NormalBox,jitter:b3NormalJitter,values:b3NormalValues},
  tumor:{levels:b3TumorLevels,widths:b3TumorWidths,box:b3TumorBox,jitter:b3TumorJitter,values:b3TumorValues},
  geo:{axisX:2501,axisY:1375.9,top:857,right:3415,v0:0,p0:1313.5,v1:10,p1:884.7,cat:[2749,3162.5],tick:[2749,3162.5],unit:413.3,tickLen:14,labelX:2478,size:56,sx:.98,color:'#000',xt:13,xtw:7}},
 {id:'b4',ticks:b4Ticks,labels:b4TickLabels,
  normal:{levels:b4NormalLevels,widths:b4NormalWidths,box:b4NormalBox,jitter:b4NormalJitter,values:b4NormalValues},
  tumor:{levels:b4TumorLevels,widths:b4TumorWidths,box:b4TumorBox,jitter:b4TumorJitter,values:b4TumorValues},
  geo:{axisX:3637.6,axisY:1374.9,top:844,right:4622,v0:0,p0:1356.4,v1:9,p1:965.6,cat:[3905,4350.5],tick:[3905,4350.5],unit:445.6,tickLen:21,labelX:3603,size:56,sx:.98,color:'#000',xt:13,xtw:7}}
];

const NS='http://www.w3.org/2000/svg';
const DARK='#333333';
const FILLS=['#ee746c','#22b5bb'];

function mk(tag,parent,attrs){
  const el=document.createElementNS(NS,tag);
  for(const k in attrs){el.setAttribute(k,attrs[k]);}
  parent.appendChild(el);
  return el;
}
function smooth(pts,first){
  let d=first?'M'+pts[0][0].toFixed(1)+' '+pts[0][1].toFixed(1):'L'+pts[0][0].toFixed(1)+' '+pts[0][1].toFixed(1);
  for(let i=0;i<pts.length-1;i++){
    const p0=pts[Math.max(i-1,0)],p1=pts[i],p2=pts[i+1],p3=pts[Math.min(i+2,pts.length-1)];
    const c1x=p1[0]+(p2[0]-p0[0])/6,c1y=p1[1]+(p2[1]-p0[1])/6;
    const c2x=p2[0]-(p3[0]-p1[0])/6,c2y=p2[1]-(p3[1]-p1[1])/6;
    d+='C'+c1x.toFixed(1)+' '+c1y.toFixed(1)+' '+c2x.toFixed(1)+' '+c2y.toFixed(1)+' '+p2[0].toFixed(1)+' '+p2[1].toFixed(1);
  }
  return d;
}
function drawGroup(g,series,catIndex,xBase,yScale,unit){
  const cx=xBase(catIndex);
  const right=series.levels.map((v,i)=>[cx+series.widths[i]*unit,yScale(v)]);
  const left=series.levels.map((v,i)=>[cx-series.widths[i]*unit,yScale(v)]).reverse();
  const violin=mk('path',g,{d:smooth(right,true)+smooth(left,false)+'Z',fill:FILLS[catIndex],stroke:DARK,'stroke-width':9.5,'stroke-linejoin':'round'});
  
  
  const b=series.box,hw=25;
  const whiskerHigh=mk('line',g,{x1:cx,x2:cx,y1:yScale(b[3]),y2:yScale(b[4]),stroke:DARK,'stroke-width':8.5});
  
  
  const whiskerLow=mk('line',g,{x1:cx,x2:cx,y1:yScale(b[1]),y2:yScale(b[0]),stroke:DARK,'stroke-width':8.5});
  
  
  const box=mk('rect',g,{x:cx-hw,width:hw*2,y:yScale(b[3]),height:yScale(b[1])-yScale(b[3]),fill:'none',stroke:DARK,'stroke-width':9});
  
  
  const median=mk('line',g,{x1:cx-hw,x2:cx+hw,y1:yScale(b[2]),y2:yScale(b[2]),stroke:DARK,'stroke-width':16});
  
  
  const n=Math.min(series.jitter.length,series.values.length);
  for(let i=0;i<n;i++){
    const dot=mk('circle',g,{cx:(cx+series.jitter[i]*unit).toFixed(1),cy:yScale(series.values[i]).toFixed(1),r:5,fill:'#000','fill-opacity':.88});
    
    
  }
}
panels.forEach(function(p){
  const g=document.getElementById(p.id),q=p.geo;
  const yScale=v=>q.p0+(v-q.v0)*(q.p1-q.p0)/(q.v1-q.v0);
  const xBase=i=>q.cat[i];
  drawGroup(g,p.normal,0,xBase,yScale,q.unit);
  drawGroup(g,p.tumor,1,xBase,yScale,q.unit);
  const yAxis=mk('line',g,{x1:q.axisX,x2:q.axisX,y1:q.top,y2:q.axisY+4,stroke:'#000','stroke-width':8.5});
  
  
  const xAxis=mk('line',g,{x1:q.axisX-4,x2:q.right,y1:q.axisY,y2:q.axisY,stroke:'#000','stroke-width':9});
  
  
  q.tick.forEach(function(x){
    const t=mk('line',g,{x1:x,x2:x,y1:q.axisY+4,y2:q.axisY+q.xt,stroke:p.id[0]==='a'?DARK:'#000','stroke-width':q.xtw});
    
    
  });
  p.ticks.forEach(function(v,i){
    const y=yScale(v);
    const t=mk('line',g,{x1:q.axisX-q.tickLen,x2:q.axisX,y1:y,y2:y,stroke:p.id[0]==='a'?DARK:'#000','stroke-width':8});
    
    
    const dy=q.shiftY?q.shiftY[i]:0,dx=q.shiftX?q.shiftX[i]:0;
    const label=mk('text',g,{transform:'translate('+(q.labelX+dx)+','+(y+dy+q.size*.35).toFixed(1)+') scale('+q.sx+',1)','text-anchor':'end','font-size':q.size,style:'fill:'+q.color});
    label.textContent=p.labels[i];
    
    
  });
});
</script>
</body></html>
